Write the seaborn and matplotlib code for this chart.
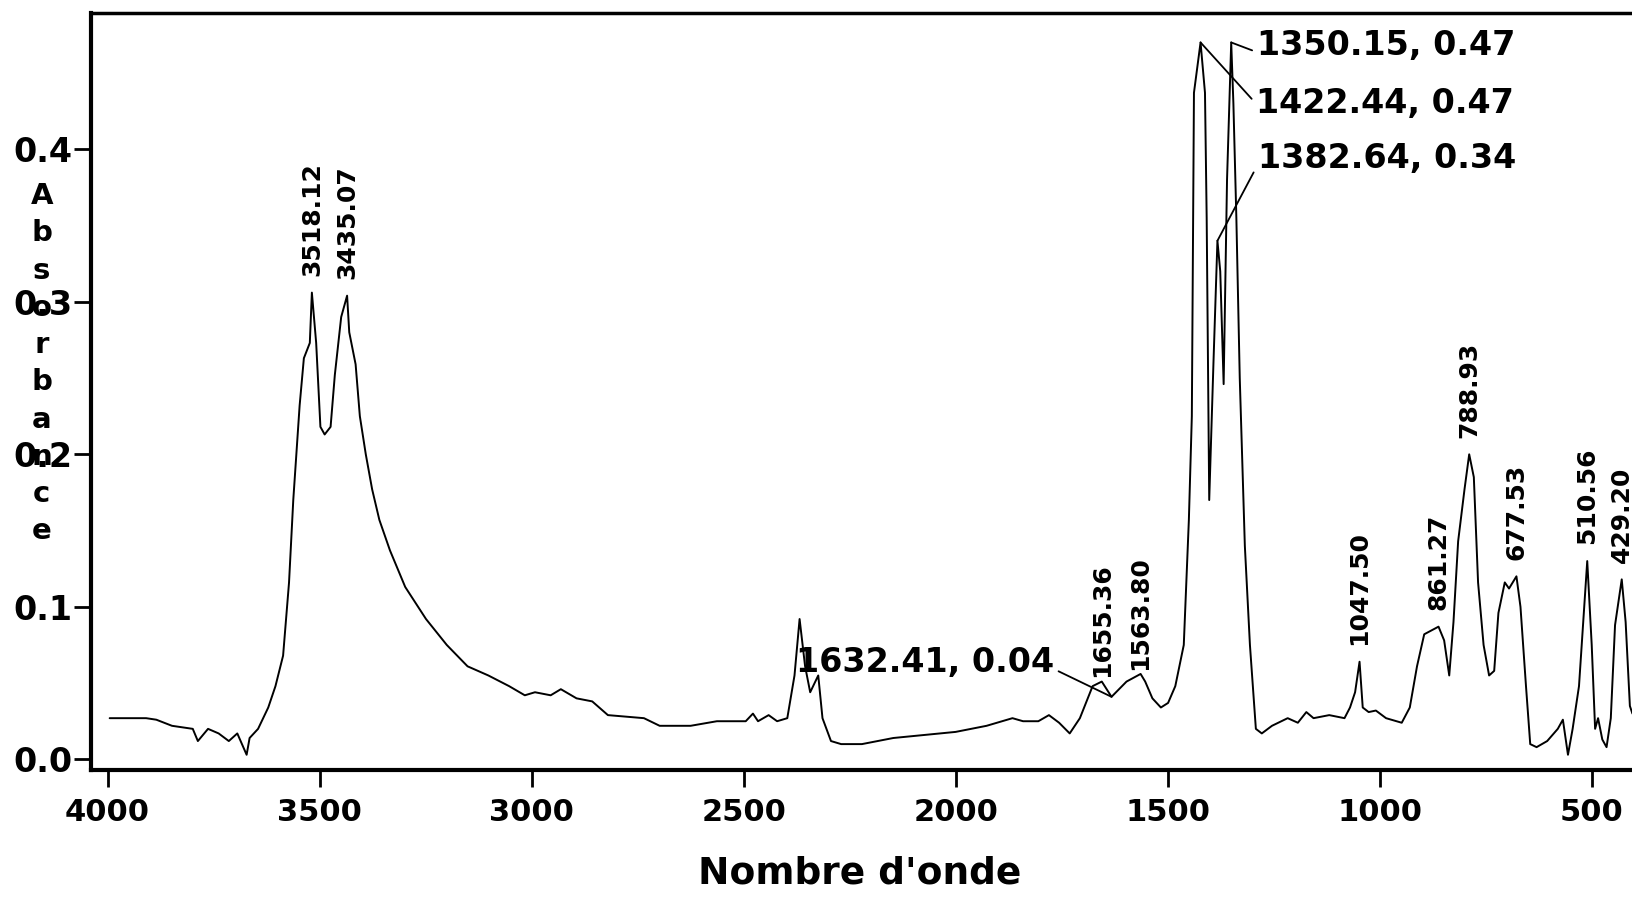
import matplotlib
matplotlib.use("Agg")
import matplotlib.pyplot as plt
import seaborn as sns
import pandas as pd

# ---- data ----
wavenumber = [3995, 3909, 3885, 3848, 3799, 3787, 3763, 3738, 3714, 3694, 3672, 3665, 3645,
              3621, 3604, 3586, 3572, 3562, 3547, 3537, 3523, 3518.12, 3508, 3498, 3488, 3474,
              3464, 3449, 3435.07, 3430, 3415, 3405, 3391, 3376, 3359, 3334, 3298, 3249, 3200,
              3151, 3102, 3053, 3016, 2992, 2955, 2931, 2894, 2857, 2820, 2735, 2698, 2625,
              2563, 2495, 2478, 2466, 2441, 2421, 2397, 2380, 2368, 2355, 2343, 2324, 2314,
              2294, 2270, 2221, 2147, 2074, 2000, 1927, 1866, 1841, 1805, 1780, 1756, 1731,
              1707, 1677, 1655.36, 1632.41, 1597, 1563.80, 1553, 1536, 1516, 1499, 1482, 1462,
              1450, 1443, 1438, 1422.44, 1412, 1408, 1402, 1392, 1382.64, 1376, 1368, 1360,
              1350.15, 1345, 1338, 1330, 1318, 1306, 1292, 1278, 1254, 1217, 1193, 1173, 1156,
              1119, 1083, 1070, 1058, 1047.50, 1040, 1026, 1009, 985, 948, 929, 912, 895, 875,
              861.27, 848, 836, 826, 815, 800, 788.93, 778, 768, 755, 742, 730, 720, 705, 695,
              677.53, 668, 655, 645, 630, 605, 580, 568, 556, 545, 530, 510.56, 500, 492, 485,
              475, 465, 455, 445, 429.20, 420, 410, 404]
absorbance = [0.027, 0.027, 0.026, 0.022, 0.020, 0.012, 0.020, 0.017, 0.012, 0.017, 0.003, 0.014, 0.020,
              0.034, 0.048, 0.068, 0.116, 0.170, 0.232, 0.263, 0.273, 0.306, 0.273, 0.218, 0.213, 0.218,
              0.252, 0.290, 0.304, 0.280, 0.259, 0.225, 0.200, 0.177, 0.157, 0.137, 0.113, 0.092, 0.075,
              0.061, 0.055, 0.048, 0.042, 0.044, 0.042, 0.046, 0.040, 0.038, 0.029, 0.027, 0.022, 0.022,
              0.025, 0.025, 0.030, 0.025, 0.029, 0.025, 0.027, 0.055, 0.092, 0.061, 0.044, 0.055, 0.027,
              0.012, 0.010, 0.010, 0.014, 0.016, 0.018, 0.022, 0.027, 0.025, 0.025, 0.029, 0.024, 0.017,
              0.027, 0.048, 0.051, 0.041, 0.051, 0.056, 0.051, 0.040, 0.034, 0.037, 0.048, 0.075,
              0.157, 0.225, 0.437, 0.470, 0.437, 0.355, 0.170, 0.260, 0.340, 0.320, 0.246, 0.380,
              0.470, 0.430, 0.355, 0.250, 0.140, 0.075, 0.020, 0.017, 0.022, 0.027, 0.024, 0.031, 0.027,
              0.029, 0.027, 0.034, 0.044, 0.064, 0.034, 0.031, 0.032, 0.027, 0.024, 0.034, 0.061, 0.082, 0.085,
              0.087, 0.078, 0.055, 0.090, 0.143, 0.177, 0.200, 0.185, 0.116, 0.075, 0.055, 0.058, 0.096, 0.116, 0.112,
              0.120, 0.100, 0.048, 0.010, 0.008, 0.012, 0.020, 0.026, 0.003, 0.020, 0.048, 0.130, 0.075, 0.020, 0.027,
              0.013, 0.008, 0.027, 0.088, 0.118, 0.090, 0.035, 0.030]

peak_labels = ["3518.12", "3435.07", "1655.36", "1563.80", "1047.50",
               "861.27", "788.93", "677.53", "510.56", "429.20"]
peak_x = [3518.12, 3435.07, 1655.36, 1563.80, 1047.50, 861.27, 788.93, 677.53, 510.56, 429.20]
peak_y = [0.306, 0.304, 0.051, 0.056, 0.064, 0.087, 0.200, 0.120, 0.130, 0.118]

callout_labels = ["1350.15, 0.47", "1422.44, 0.47", "1382.64, 0.34", "1632.41, 0.04"]
callout_x = [1350.15, 1422.44, 1382.64, 1632.41]
callout_y = [0.47, 0.47, 0.34, 0.041]

x_ticks = [4000, 3500, 3000, 2500, 2000, 1500, 1000, 500]
y_ticks = [0.0, 0.1, 0.2, 0.3, 0.4]
x_title = "Nombre d'onde"
y_title = "Absorbance"

# ---- drawing ----
sns.set_theme(style="ticks")
plt.rcParams['font.family'] = ['DejaVu Sans']
plt.rcParams['font.weight'] = 'bold'
plt.rcParams['text.color'] = 'black'
plt.rcParams['xtick.color'] = 'black'
plt.rcParams['ytick.color'] = 'black'

fig = plt.figure(figsize=(16.32, 8.98), dpi=100)
ax = fig.add_axes([0.0555, 0.1425, 0.9445, 0.8425])

df = pd.DataFrame({"wn": wavenumber, "abs": absorbance})
sns.lineplot(data=df, x="wn", y="abs", ax=ax, color="black", lw=1.4,
             sort=False, estimator=None)

ax.set_xlim(4040, 405)
ax.set_ylim(-0.007, 0.489)
ax.set_xticks(x_ticks)
ax.set_xticklabels([str(t) for t in x_ticks], fontsize=22, fontweight='bold', color='black')
ax.set_yticks(y_ticks)
ax.set_yticklabels([f"{t:.1f}" for t in y_ticks], fontsize=24, fontweight='bold', color='black')
ax.tick_params(axis='x', direction='out', length=12, width=2, pad=8, color='black')
ax.tick_params(axis='y', direction='out', length=12, width=2, pad=1, color='black')
ax.set_xlabel("")
ax.set_ylabel("")

for side in ['left', 'bottom']:
    ax.spines[side].set_linewidth(3)
    ax.spines[side].set_color('black')
ax.spines['top'].set_linewidth(2.5)
ax.spines['top'].set_color('black')
ax.spines['right'].set_visible(False)

# vertical peak labels (small peaks get a smaller gap, as in the reference)
for lab, px, py in zip(peak_labels, peak_x, peak_y):
    off = 3 if py < 0.06 else 12
    ax.annotate(lab, xy=(px, py), xytext=(0, off), textcoords='offset points',
                rotation=90, ha='center', va='bottom', fontsize=18, fontweight='bold',
                color='black')

# call-out labels with leader lines
text_pos = [(1290, 0.468), (1292, 0.430), (1288, 0.394), (1768, 0.0635)]
text_ha = ['left', 'left', 'left', 'right']
text_rel = [(0, 0.3), (0, 0.5), (0, 0.3), (1, 0.3)]
for lab, px, py, (tx, ty), ha, rp in zip(callout_labels, callout_x, callout_y,
                                          text_pos, text_ha, text_rel):
    ax.annotate(lab, xy=(px, py), xytext=(tx, ty), textcoords='data',
                ha=ha, va='center', fontsize=24, fontweight='bold', color='black',
                arrowprops=dict(arrowstyle='-', color='black', lw=1.3, relpos=rp,
                                shrinkA=1, shrinkB=0))

fig.text(0.527, 0.027, x_title, ha='center', va='center', fontsize=27, fontweight='bold',
         color='black')
fig.text(0.0255, 0.595, "\n".join(y_title), ha='center', va='center', fontsize=21,
         fontweight='bold', linespacing=1.42, color='black')

fig.savefig("out.png", dpi=100)
